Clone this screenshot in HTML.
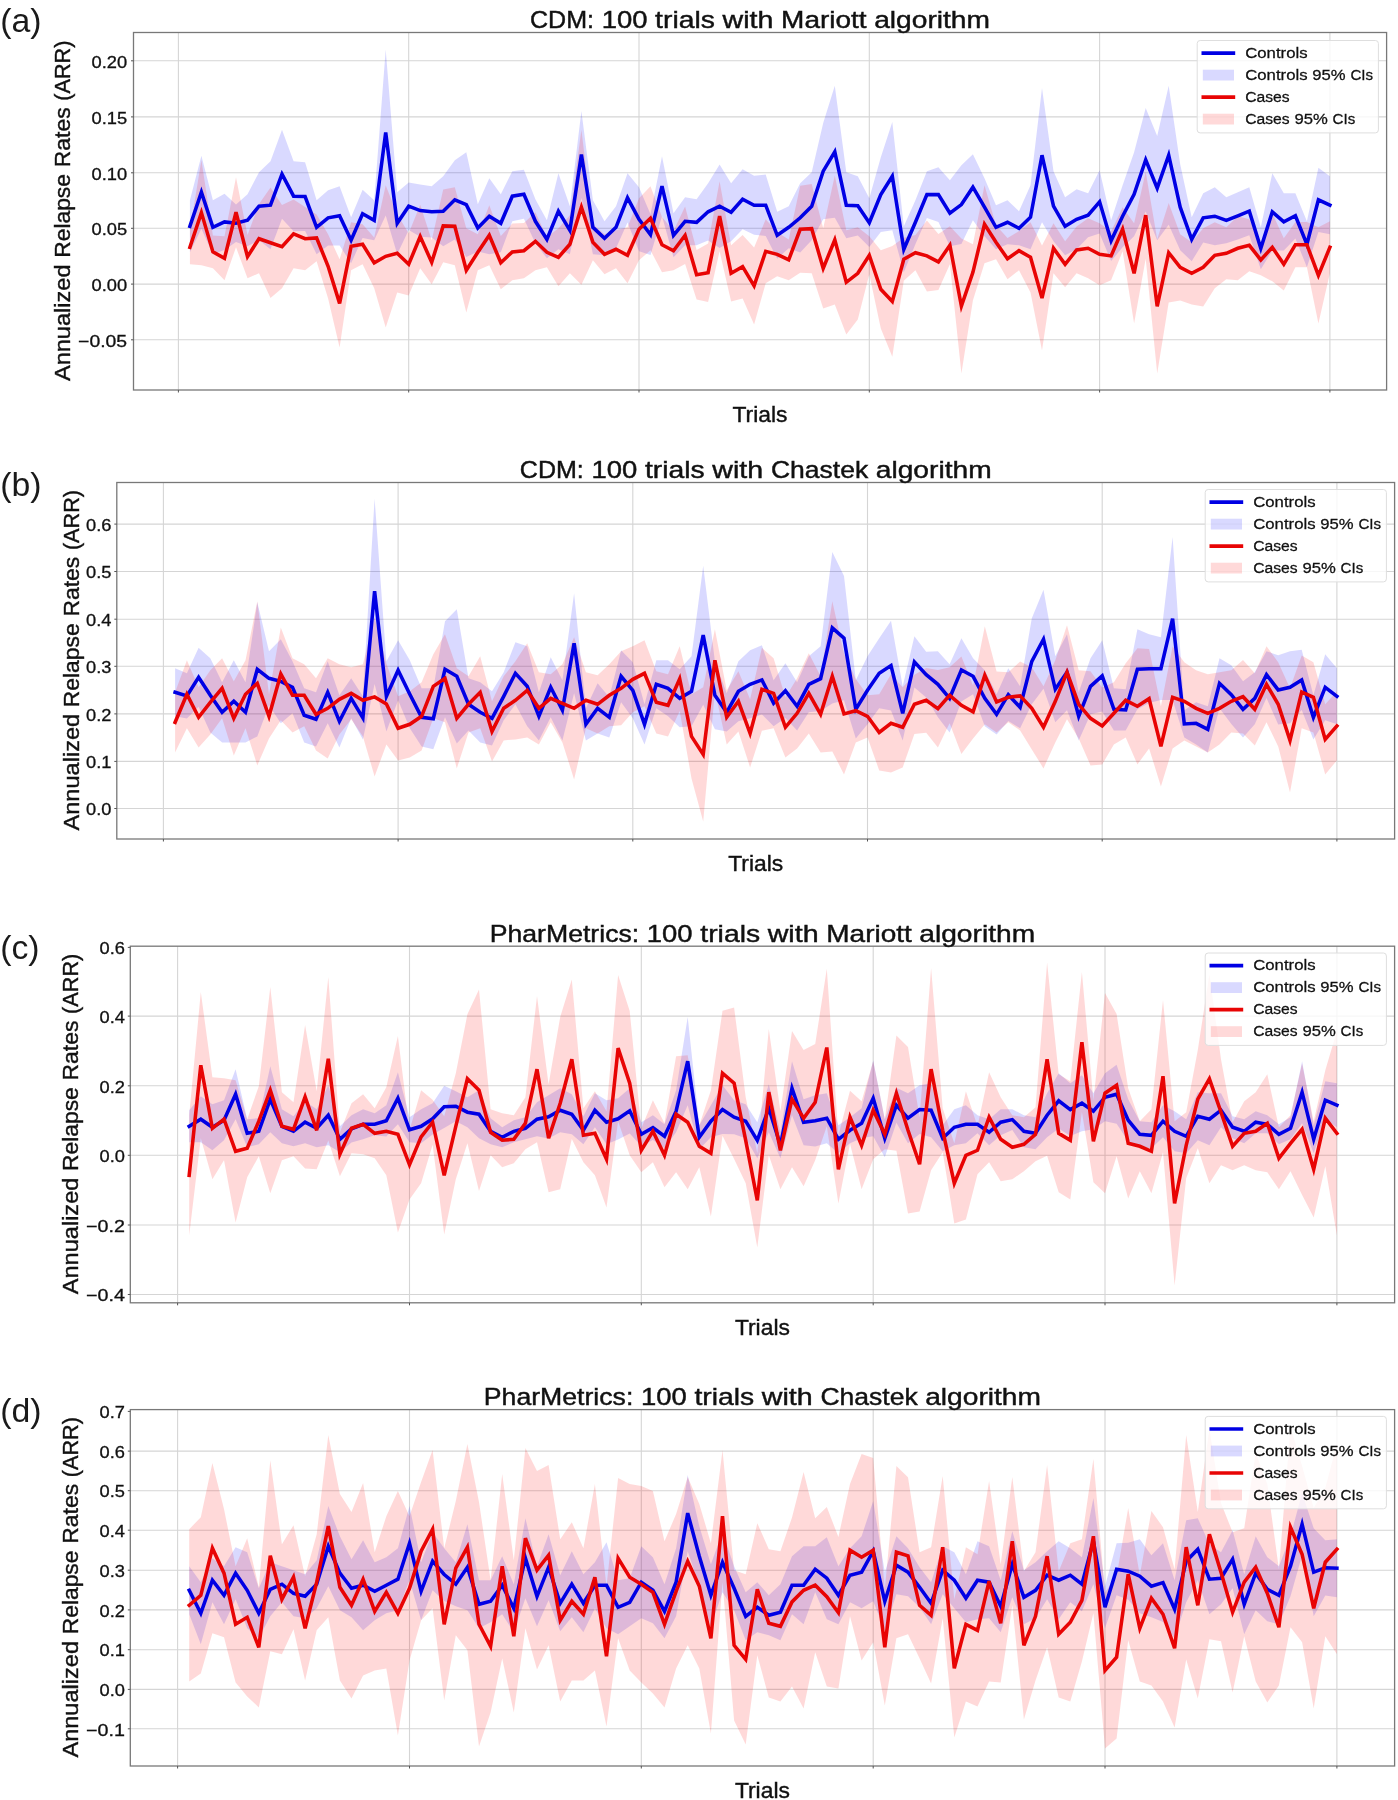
<!DOCTYPE html>
<html><head><meta charset="utf-8"><title>ARR trials</title>
<style>html,body{margin:0;padding:0;background:#fff}svg{display:block;will-change:transform}text{font-family:"Liberation Sans",sans-serif}</style></head>
<body>
<svg width="1398" height="1800" viewBox="0 0 1398 1800">
<rect width="1398" height="1800" fill="#ffffff"/>
<g>
<line x1="178.4" y1="32.5" x2="178.4" y2="390.0" stroke="#d5d5d5" stroke-width="1.1"/>
<line x1="408.7" y1="32.5" x2="408.7" y2="390.0" stroke="#d5d5d5" stroke-width="1.1"/>
<line x1="639.0" y1="32.5" x2="639.0" y2="390.0" stroke="#d5d5d5" stroke-width="1.1"/>
<line x1="869.3" y1="32.5" x2="869.3" y2="390.0" stroke="#d5d5d5" stroke-width="1.1"/>
<line x1="1099.6" y1="32.5" x2="1099.6" y2="390.0" stroke="#d5d5d5" stroke-width="1.1"/>
<line x1="1329.9" y1="32.5" x2="1329.9" y2="390.0" stroke="#d5d5d5" stroke-width="1.1"/>
<line x1="133.5" y1="60.8" x2="1386.6" y2="60.8" stroke="#d5d5d5" stroke-width="1.1"/>
<line x1="133.5" y1="116.9" x2="1386.6" y2="116.9" stroke="#d5d5d5" stroke-width="1.1"/>
<line x1="133.5" y1="172.8" x2="1386.6" y2="172.8" stroke="#d5d5d5" stroke-width="1.1"/>
<line x1="133.5" y1="228.3" x2="1386.6" y2="228.3" stroke="#d5d5d5" stroke-width="1.1"/>
<line x1="133.5" y1="284.1" x2="1386.6" y2="284.1" stroke="#d5d5d5" stroke-width="1.1"/>
<line x1="133.5" y1="339.8" x2="1386.6" y2="339.8" stroke="#d5d5d5" stroke-width="1.1"/>
<clipPath id="cpa"><rect x="133.5" y="32.5" width="1253.1" height="357.5"/></clipPath>
<g clip-path="url(#cpa)">
<polygon points="189.9,200.2 201.4,155.8 212.9,200.2 224.5,193.8 236.0,204.6 247.5,194.2 259.0,172.2 270.5,161.2 282.0,129.7 293.6,161.2 305.1,162.2 316.6,200.2 328.1,190.2 339.6,186.2 351.1,217.2 362.6,189.8 374.2,200.2 385.7,49.6 397.2,192.2 408.7,182.4 420.2,184.6 431.7,186.2 443.2,176.2 454.8,160.2 466.3,152.2 477.8,204.2 489.3,178.2 500.8,194.2 512.3,171.2 523.9,169.8 535.4,199.2 546.9,220.3 558.4,173.2 569.9,206.2 581.4,111.1 592.9,200.2 604.5,221.3 616.0,206.2 627.5,173.2 639.0,187.2 650.5,214.2 662.0,156.2 673.5,213.2 685.1,197.2 696.6,199.2 708.1,183.2 719.6,164.6 731.1,183.2 742.6,169.2 754.1,175.8 765.7,174.6 777.2,211.8 788.7,206.2 800.2,183.2 811.7,172.2 823.2,123.1 834.8,85.7 846.3,172.2 857.8,176.2 869.3,198.2 880.8,157.2 892.3,122.1 903.8,226.3 915.4,200.2 926.9,171.2 938.4,167.2 949.9,180.2 961.4,165.2 972.9,154.2 984.5,178.2 996.0,205.2 1007.5,200.2 1019.0,211.2 1030.5,185.2 1042.0,88.1 1053.5,171.2 1065.1,197.2 1076.6,189.2 1088.1,193.2 1099.6,170.2 1111.1,220.3 1122.6,185.2 1134.1,152.2 1145.7,108.1 1157.2,136.1 1168.7,85.7 1180.2,164.2 1191.7,217.2 1203.2,193.2 1214.8,187.2 1226.3,197.2 1237.8,192.2 1249.3,187.2 1260.8,227.3 1272.3,173.2 1283.8,193.2 1295.4,193.2 1306.9,221.3 1318.4,167.8 1329.9,176.2 1329.9,234.3 1318.4,231.9 1306.9,267.3 1295.4,238.5 1283.8,250.5 1272.3,250.5 1260.8,269.3 1249.3,235.3 1237.8,239.5 1226.3,243.3 1214.8,245.3 1203.2,242.5 1191.7,261.3 1180.2,250.3 1168.7,224.7 1157.2,240.3 1145.7,211.4 1134.1,236.3 1122.6,247.3 1111.1,261.1 1099.6,233.5 1088.1,237.3 1076.6,249.3 1065.1,255.3 1053.5,241.3 1042.0,222.3 1030.5,249.3 1019.0,245.3 1007.5,244.3 996.0,249.3 984.5,236.3 972.9,220.3 961.4,244.1 949.9,246.3 938.4,222.1 926.9,218.0 915.4,244.3 903.8,272.3 892.3,230.3 880.8,232.1 869.3,247.1 857.8,235.5 846.3,238.3 834.8,217.8 823.2,219.3 811.7,240.3 800.2,252.5 788.7,248.3 777.2,258.7 765.7,235.9 754.1,234.7 742.6,229.3 731.1,241.3 719.6,247.9 708.1,240.5 696.6,245.3 685.1,245.3 673.5,257.3 662.0,216.2 650.5,255.1 639.0,251.3 627.5,222.5 616.0,248.3 604.5,255.3 592.9,254.3 581.4,198.0 569.9,254.3 558.4,249.3 546.9,258.3 535.4,243.3 523.9,218.7 512.3,221.3 500.8,252.3 489.3,254.3 477.8,251.5 466.3,257.1 454.8,239.5 443.2,246.3 431.7,237.5 420.2,236.7 408.7,230.1 397.2,254.3 385.7,215.4 374.2,240.3 362.6,237.9 351.1,263.3 339.6,245.5 328.1,245.5 316.6,254.3 305.1,231.1 293.6,231.3 282.0,218.7 270.5,249.3 259.0,240.3 247.5,246.3 236.0,241.9 224.5,249.9 212.9,254.3 201.4,228.7 189.9,252.3" fill="#0000ff" fill-opacity="0.15"/>
<polygon points="189.9,230.3 201.4,160.0 212.9,235.5 224.5,236.3 236.0,177.2 247.5,235.1 259.0,204.0 270.5,187.4 282.0,205.0 293.6,199.4 305.1,207.0 316.6,214.4 328.1,234.3 339.6,259.3 351.1,222.3 362.6,224.3 374.2,237.5 385.7,185.2 397.2,214.2 408.7,233.3 420.2,204.8 431.7,240.3 443.2,189.4 454.8,187.2 466.3,228.3 477.8,234.3 489.3,205.2 500.8,236.1 512.3,223.5 523.9,223.1 535.4,212.2 546.9,237.3 558.4,228.3 569.9,215.2 581.4,129.7 592.9,224.3 604.5,234.3 616.0,230.3 627.5,227.3 639.0,198.2 650.5,186.2 662.0,217.0 673.5,231.1 685.1,206.6 696.6,250.1 708.1,243.5 719.6,181.2 731.1,245.3 742.6,235.1 754.1,247.5 765.7,219.3 777.2,232.3 788.7,239.5 800.2,185.8 811.7,184.0 823.2,228.3 834.8,175.4 846.3,230.3 857.8,227.3 869.3,236.3 880.8,250.3 892.3,245.9 903.8,237.8 915.4,235.1 926.9,220.5 938.4,233.9 949.9,226.3 961.4,238.5 972.9,244.3 984.5,185.2 996.0,225.3 1007.5,238.1 1019.0,231.1 1030.5,222.3 1042.0,245.5 1053.5,223.3 1065.1,241.3 1076.6,226.5 1088.1,218.2 1099.6,223.3 1111.1,231.5 1122.6,207.2 1134.1,223.3 1145.7,171.8 1157.2,239.3 1168.7,203.0 1180.2,234.3 1191.7,242.3 1203.2,228.3 1214.8,222.3 1226.3,227.3 1237.8,216.2 1249.3,219.3 1260.8,244.5 1272.3,213.2 1283.8,238.3 1295.4,222.1 1306.9,222.1 1318.4,227.3 1329.9,221.3 1329.9,273.3 1318.4,323.4 1306.9,267.3 1295.4,267.3 1283.8,290.4 1272.3,281.3 1260.8,275.3 1249.3,271.3 1237.8,280.3 1226.3,279.3 1214.8,288.3 1203.2,306.4 1191.7,304.4 1180.2,300.4 1168.7,302.4 1157.2,373.5 1145.7,258.7 1134.1,323.4 1122.6,251.3 1111.1,280.3 1099.6,285.3 1088.1,278.3 1076.6,273.3 1065.1,287.3 1053.5,273.3 1042.0,350.4 1030.5,292.4 1019.0,270.3 1007.5,279.3 996.0,259.3 984.5,263.3 972.9,300.4 961.4,373.5 949.9,264.3 938.4,289.9 926.9,291.4 915.4,270.3 903.8,280.8 892.3,356.8 880.8,328.4 869.3,274.3 857.8,319.4 846.3,334.4 834.8,304.4 823.2,308.4 811.7,273.3 800.2,272.7 788.7,280.3 777.2,276.3 765.7,283.3 754.1,324.4 742.6,298.4 731.1,301.4 719.6,251.3 708.1,302.0 696.6,299.4 685.1,263.9 673.5,270.3 662.0,272.3 650.5,250.3 639.0,260.3 627.5,283.3 616.0,268.3 604.5,274.3 592.9,260.3 581.4,284.7 569.9,273.3 558.4,286.3 546.9,267.3 535.4,270.3 523.9,278.3 512.3,280.3 500.8,289.3 489.3,265.3 477.8,270.3 466.3,312.4 454.8,265.3 443.2,262.3 431.7,284.3 420.2,268.3 408.7,295.4 397.2,292.4 385.7,327.4 374.2,288.3 362.6,264.3 351.1,270.3 339.6,347.4 328.1,298.4 316.6,261.3 305.1,270.3 293.6,268.3 282.0,288.3 270.5,298.0 259.0,273.3 247.5,278.3 236.0,247.3 224.5,280.3 212.9,268.3 201.4,265.3 189.9,264.3" fill="#ff0000" fill-opacity="0.15"/>
<polyline points="189.9,226.3 201.4,192.2 212.9,227.3 224.5,221.9 236.0,223.3 247.5,220.3 259.0,206.2 270.5,205.2 282.0,174.2 293.6,196.2 305.1,196.6 316.6,227.3 328.1,217.8 339.6,215.8 351.1,240.3 362.6,213.8 374.2,220.3 385.7,132.5 397.2,223.3 408.7,206.2 420.2,210.6 431.7,211.8 443.2,211.2 454.8,199.8 466.3,204.6 477.8,227.9 489.3,216.2 500.8,223.3 512.3,196.2 523.9,194.2 535.4,221.3 546.9,239.3 558.4,211.2 569.9,230.3 581.4,154.6 592.9,227.3 604.5,238.3 616.0,227.3 627.5,197.8 639.0,219.3 650.5,234.7 662.0,186.2 673.5,235.3 685.1,221.3 696.6,222.3 708.1,211.8 719.6,206.2 731.1,212.2 742.6,199.2 754.1,205.2 765.7,205.2 777.2,235.3 788.7,227.3 800.2,217.8 811.7,206.2 823.2,171.2 834.8,151.8 846.3,205.2 857.8,205.8 869.3,222.7 880.8,194.6 892.3,176.2 903.8,249.3 915.4,222.3 926.9,194.6 938.4,194.6 949.9,213.2 961.4,204.6 972.9,187.2 984.5,207.2 996.0,227.3 1007.5,222.3 1019.0,228.3 1030.5,217.2 1042.0,155.2 1053.5,206.2 1065.1,226.3 1076.6,219.3 1088.1,215.2 1099.6,201.8 1111.1,240.7 1122.6,216.2 1134.1,194.2 1145.7,159.8 1157.2,188.2 1168.7,155.2 1180.2,207.2 1191.7,239.3 1203.2,217.8 1214.8,216.2 1226.3,220.3 1237.8,215.8 1249.3,211.2 1260.8,248.3 1272.3,211.8 1283.8,221.9 1295.4,215.8 1306.9,244.3 1318.4,199.8 1329.9,205.2" fill="none" stroke="#0000e4" stroke-width="3.55" stroke-linejoin="miter" stroke-miterlimit="4" stroke-linecap="square"/>
<polyline points="189.9,247.3 201.4,212.6 212.9,251.9 224.5,258.3 236.0,212.2 247.5,256.7 259.0,238.7 270.5,242.7 282.0,246.7 293.6,233.9 305.1,238.7 316.6,237.9 328.1,266.3 339.6,303.4 351.1,246.3 362.6,244.3 374.2,262.9 385.7,256.3 397.2,253.3 408.7,264.3 420.2,236.6 431.7,262.3 443.2,225.9 454.8,226.3 466.3,270.3 477.8,252.3 489.3,235.3 500.8,262.7 512.3,251.9 523.9,250.7 535.4,241.3 546.9,252.3 558.4,257.3 569.9,244.3 581.4,207.2 592.9,242.3 604.5,254.3 616.0,249.3 627.5,255.3 639.0,229.3 650.5,218.2 662.0,244.7 673.5,250.7 685.1,235.3 696.6,274.7 708.1,272.7 719.6,216.2 731.1,273.3 742.6,266.7 754.1,285.9 765.7,251.3 777.2,254.3 788.7,259.9 800.2,229.3 811.7,228.7 823.2,268.3 834.8,239.9 846.3,282.3 857.8,273.3 869.3,255.3 880.8,289.3 892.3,301.4 903.8,259.3 915.4,252.7 926.9,255.9 938.4,261.9 949.9,245.3 961.4,306.0 972.9,272.3 984.5,224.3 996.0,242.3 1007.5,258.7 1019.0,250.7 1030.5,257.3 1042.0,298.0 1053.5,248.3 1065.1,264.3 1076.6,249.9 1088.1,248.3 1099.6,254.3 1111.1,255.9 1122.6,229.3 1134.1,273.3 1145.7,215.2 1157.2,306.4 1168.7,252.7 1180.2,267.3 1191.7,273.3 1203.2,267.3 1214.8,255.3 1226.3,253.3 1237.8,248.3 1249.3,245.3 1260.8,259.9 1272.3,247.3 1283.8,264.3 1295.4,244.7 1306.9,244.7 1318.4,275.3 1329.9,247.3" fill="none" stroke="#e80404" stroke-width="3.55" stroke-linejoin="miter" stroke-miterlimit="4" stroke-linecap="square"/>
</g>
<rect x="133.5" y="32.5" width="1253.1" height="357.5" fill="none" stroke="#787878" stroke-width="1.3"/>
<line x1="178.4" y1="390.0" x2="178.4" y2="392.5" stroke="#555555" stroke-width="1"/>
<line x1="408.7" y1="390.0" x2="408.7" y2="392.5" stroke="#555555" stroke-width="1"/>
<line x1="639.0" y1="390.0" x2="639.0" y2="392.5" stroke="#555555" stroke-width="1"/>
<line x1="869.3" y1="390.0" x2="869.3" y2="392.5" stroke="#555555" stroke-width="1"/>
<line x1="1099.6" y1="390.0" x2="1099.6" y2="392.5" stroke="#555555" stroke-width="1"/>
<line x1="1329.9" y1="390.0" x2="1329.9" y2="392.5" stroke="#555555" stroke-width="1"/>
<line x1="131.0" y1="60.8" x2="133.5" y2="60.8" stroke="#555555" stroke-width="1"/>
<text x="91.5" y="67.5" font-size="16.6" fill="#111111" textLength="35.6" lengthAdjust="spacingAndGlyphs" stroke="#111111" stroke-width="0.30">0.20</text>
<line x1="131.0" y1="116.9" x2="133.5" y2="116.9" stroke="#555555" stroke-width="1"/>
<text x="91.5" y="123.6" font-size="16.6" fill="#111111" textLength="35.6" lengthAdjust="spacingAndGlyphs" stroke="#111111" stroke-width="0.30">0.15</text>
<line x1="131.0" y1="172.8" x2="133.5" y2="172.8" stroke="#555555" stroke-width="1"/>
<text x="91.5" y="179.5" font-size="16.6" fill="#111111" textLength="35.6" lengthAdjust="spacingAndGlyphs" stroke="#111111" stroke-width="0.30">0.10</text>
<line x1="131.0" y1="228.3" x2="133.5" y2="228.3" stroke="#555555" stroke-width="1"/>
<text x="91.5" y="235.0" font-size="16.6" fill="#111111" textLength="35.6" lengthAdjust="spacingAndGlyphs" stroke="#111111" stroke-width="0.30">0.05</text>
<line x1="131.0" y1="284.1" x2="133.5" y2="284.1" stroke="#555555" stroke-width="1"/>
<text x="91.5" y="290.8" font-size="16.6" fill="#111111" textLength="35.6" lengthAdjust="spacingAndGlyphs" stroke="#111111" stroke-width="0.30">0.00</text>
<line x1="131.0" y1="339.8" x2="133.5" y2="339.8" stroke="#555555" stroke-width="1"/>
<text x="78.1" y="346.5" font-size="16.6" fill="#111111" textLength="49.0" lengthAdjust="spacingAndGlyphs" stroke="#111111" stroke-width="0.30">−0.05</text>
<text x="530.0" y="28.1" font-size="24.5" fill="#111111" textLength="64.0" lengthAdjust="spacingAndGlyphs" stroke="#111111" stroke-width="0.44">CDM:</text>
<text x="601.7" y="28.1" font-size="24.5" fill="#111111" textLength="45.8" lengthAdjust="spacingAndGlyphs" stroke="#111111" stroke-width="0.44">100</text>
<text x="655.1" y="28.1" font-size="24.5" fill="#111111" textLength="59.8" lengthAdjust="spacingAndGlyphs" stroke="#111111" stroke-width="0.44">trials</text>
<text x="722.6" y="28.1" font-size="24.5" fill="#111111" textLength="50.9" lengthAdjust="spacingAndGlyphs" stroke="#111111" stroke-width="0.44">with</text>
<text x="781.1" y="28.1" font-size="24.5" fill="#111111" textLength="85.5" lengthAdjust="spacingAndGlyphs" stroke="#111111" stroke-width="0.44">Mariott</text>
<text x="874.2" y="28.1" font-size="24.5" fill="#111111" textLength="115.8" lengthAdjust="spacingAndGlyphs" stroke="#111111" stroke-width="0.44">algorithm</text>
<text x="732.5" y="422.0" font-size="22.3" fill="#111111" textLength="55.0" lengthAdjust="spacingAndGlyphs" stroke="#111111" stroke-width="0.40">Trials</text>
<g transform="translate(69.8,210.8) rotate(-90)">
<text x="-170.3" y="0.0" font-size="22.3" fill="#111111" textLength="116.7" lengthAdjust="spacingAndGlyphs" stroke="#111111" stroke-width="0.40">Annualized</text>
<text x="-47.0" y="0.0" font-size="22.3" fill="#111111" textLength="83.8" lengthAdjust="spacingAndGlyphs" stroke="#111111" stroke-width="0.40">Relapse</text>
<text x="43.6" y="0.0" font-size="22.3" fill="#111111" textLength="59.8" lengthAdjust="spacingAndGlyphs" stroke="#111111" stroke-width="0.40">Rates</text>
<text x="110.1" y="0.0" font-size="22.3" fill="#111111" textLength="60.2" lengthAdjust="spacingAndGlyphs" stroke="#111111" stroke-width="0.40">(ARR)</text>
</g>
<text x="0.2" y="31.9" font-family="Liberation Sans, sans-serif" font-size="33.8" fill="#1a1a1a" textLength="41.3" lengthAdjust="spacingAndGlyphs">(a)</text>
<rect x="1197.2" y="40.5" width="181.2" height="92.4" rx="3" ry="3" fill="#ffffff" fill-opacity="0.8" stroke="#dedede" stroke-width="1"/>
<line x1="1201.5" y1="53.1" x2="1235.2" y2="53.1" stroke="#0000e4" stroke-width="3.55"/>
<text x="1245.2" y="57.7" font-size="15.5" fill="#111111" textLength="62.4" lengthAdjust="spacingAndGlyphs" stroke="#111111" stroke-width="0.28">Controls</text>
<rect x="1202.8" y="69.7" width="31.2" height="10.8" fill="#0000ff" fill-opacity="0.15"/>
<text x="1245.2" y="79.7" font-size="15.5" fill="#111111" textLength="62.4" lengthAdjust="spacingAndGlyphs" stroke="#111111" stroke-width="0.28">Controls</text>
<text x="1312.3" y="79.7" font-size="15.5" fill="#111111" textLength="33.3" lengthAdjust="spacingAndGlyphs" stroke="#111111" stroke-width="0.28">95%</text>
<text x="1350.4" y="79.7" font-size="15.5" fill="#111111" textLength="22.7" lengthAdjust="spacingAndGlyphs" stroke="#111111" stroke-width="0.28">CIs</text>
<line x1="1201.5" y1="97.1" x2="1235.2" y2="97.1" stroke="#e80404" stroke-width="3.55"/>
<text x="1245.2" y="101.7" font-size="15.5" fill="#111111" textLength="44.5" lengthAdjust="spacingAndGlyphs" stroke="#111111" stroke-width="0.28">Cases</text>
<rect x="1202.8" y="113.7" width="31.2" height="10.8" fill="#ff0000" fill-opacity="0.15"/>
<text x="1245.2" y="123.7" font-size="15.5" fill="#111111" textLength="44.5" lengthAdjust="spacingAndGlyphs" stroke="#111111" stroke-width="0.28">Cases</text>
<text x="1294.5" y="123.7" font-size="15.5" fill="#111111" textLength="33.3" lengthAdjust="spacingAndGlyphs" stroke="#111111" stroke-width="0.28">95%</text>
<text x="1332.6" y="123.7" font-size="15.5" fill="#111111" textLength="22.7" lengthAdjust="spacingAndGlyphs" stroke="#111111" stroke-width="0.28">CIs</text>
</g>
<g>
<line x1="163.4" y1="482.5" x2="163.4" y2="839.0" stroke="#d5d5d5" stroke-width="1.1"/>
<line x1="398.1" y1="482.5" x2="398.1" y2="839.0" stroke="#d5d5d5" stroke-width="1.1"/>
<line x1="632.8" y1="482.5" x2="632.8" y2="839.0" stroke="#d5d5d5" stroke-width="1.1"/>
<line x1="867.5" y1="482.5" x2="867.5" y2="839.0" stroke="#d5d5d5" stroke-width="1.1"/>
<line x1="1102.2" y1="482.5" x2="1102.2" y2="839.0" stroke="#d5d5d5" stroke-width="1.1"/>
<line x1="1336.9" y1="482.5" x2="1336.9" y2="839.0" stroke="#d5d5d5" stroke-width="1.1"/>
<line x1="116.8" y1="524.1" x2="1394.6" y2="524.1" stroke="#d5d5d5" stroke-width="1.1"/>
<line x1="116.8" y1="571.5" x2="1394.6" y2="571.5" stroke="#d5d5d5" stroke-width="1.1"/>
<line x1="116.8" y1="619.2" x2="1394.6" y2="619.2" stroke="#d5d5d5" stroke-width="1.1"/>
<line x1="116.8" y1="666.3" x2="1394.6" y2="666.3" stroke="#d5d5d5" stroke-width="1.1"/>
<line x1="116.8" y1="713.9" x2="1394.6" y2="713.9" stroke="#d5d5d5" stroke-width="1.1"/>
<line x1="116.8" y1="761.4" x2="1394.6" y2="761.4" stroke="#d5d5d5" stroke-width="1.1"/>
<line x1="116.8" y1="808.5" x2="1394.6" y2="808.5" stroke="#d5d5d5" stroke-width="1.1"/>
<clipPath id="cpb"><rect x="116.8" y="482.5" width="1277.8" height="356.5"/></clipPath>
<g clip-path="url(#cpb)">
<polygon points="175.1,668.3 186.9,673.3 198.6,647.8 210.3,658.2 222.1,682.3 233.8,660.3 245.5,682.3 257.3,602.2 269.0,651.2 280.8,639.2 292.5,661.3 304.2,688.3 316.0,692.3 327.7,661.3 339.4,695.3 351.2,678.3 362.9,696.3 374.6,498.4 386.4,661.3 398.1,640.2 409.8,660.3 421.6,688.3 433.3,688.3 445.0,621.2 456.8,609.2 468.5,678.3 480.2,682.3 492.0,691.3 503.7,672.3 515.4,642.2 527.2,646.2 538.9,692.3 550.7,657.2 562.4,680.3 574.1,593.2 585.9,708.3 597.6,683.3 609.3,697.3 621.1,650.2 632.8,662.3 644.5,704.3 656.3,660.3 668.0,660.3 679.7,669.3 691.5,656.2 703.2,565.7 714.9,661.3 726.7,693.3 738.4,661.3 750.1,650.2 761.9,645.2 773.6,680.3 785.4,663.3 797.1,682.3 808.8,656.2 820.6,646.2 832.3,552.1 844.0,576.1 855.8,680.3 867.5,656.2 879.2,638.2 891.0,620.7 902.7,686.3 914.4,636.2 926.2,651.8 937.9,651.2 949.6,664.3 961.4,638.2 973.1,658.2 984.8,670.3 996.6,694.3 1008.3,668.3 1020.1,686.3 1031.8,618.2 1043.5,589.8 1055.3,656.2 1067.0,634.2 1078.7,692.3 1090.5,658.2 1102.2,640.2 1113.9,688.3 1125.7,689.3 1137.4,629.2 1149.1,634.2 1160.9,637.2 1172.6,537.1 1184.3,710.3 1196.1,702.3 1207.8,706.3 1219.5,658.2 1231.3,665.3 1243.0,681.3 1254.8,672.3 1266.5,651.2 1278.2,655.2 1290.0,651.2 1301.7,649.8 1313.4,695.3 1325.2,654.2 1336.9,668.3 1336.9,724.3 1325.2,720.3 1313.4,739.4 1301.7,709.9 1290.0,723.3 1278.2,724.5 1266.5,698.1 1254.8,724.3 1243.0,737.4 1231.3,724.1 1219.5,708.3 1207.8,752.4 1196.1,744.4 1184.3,737.6 1172.6,700.1 1160.9,700.1 1149.1,703.1 1137.4,709.3 1125.7,730.6 1113.9,730.4 1102.2,711.5 1090.5,714.3 1078.7,740.4 1067.0,710.3 1055.3,722.3 1043.5,688.7 1031.8,704.3 1020.1,728.3 1008.3,721.1 996.6,734.4 984.8,726.3 973.1,694.3 961.4,701.5 949.6,732.4 937.9,717.3 926.2,697.5 914.4,687.5 902.7,740.4 891.0,710.4 879.2,708.3 867.5,724.3 855.8,738.4 844.0,700.3 832.3,703.5 820.6,711.1 808.8,712.3 797.1,730.4 785.4,718.1 773.6,726.3 761.9,714.5 750.1,718.3 738.4,721.3 726.7,731.4 714.9,729.3 703.2,704.7 691.5,726.3 679.7,727.3 668.0,716.3 656.3,708.3 644.5,744.4 632.8,718.3 621.1,702.3 609.3,737.4 597.6,733.4 585.9,740.4 574.1,693.3 562.4,740.4 550.7,717.3 538.9,740.4 527.2,726.3 515.4,704.3 503.7,720.3 492.0,745.4 480.2,742.4 468.5,730.4 456.8,743.4 445.0,717.3 433.3,749.2 421.6,746.4 409.8,728.3 398.1,700.3 386.4,731.4 374.6,683.9 362.9,739.6 351.2,718.3 339.4,747.4 327.7,723.3 316.0,746.4 304.2,742.4 292.5,713.3 280.8,723.3 269.0,705.3 257.3,736.4 245.5,742.4 233.8,742.4 222.1,742.4 210.3,732.4 198.6,706.7 186.9,718.5 175.1,716.3" fill="#0000ff" fill-opacity="0.15"/>
<polygon points="175.1,692.3 186.9,660.3 198.6,687.3 210.3,670.3 222.1,658.2 233.8,681.3 245.5,660.3 257.3,601.2 269.0,694.3 280.8,627.4 292.5,658.2 304.2,664.3 316.0,678.3 327.7,658.2 339.4,664.3 351.2,667.3 362.9,664.3 374.6,617.4 386.4,663.5 398.1,696.3 409.8,691.3 421.6,682.3 433.3,654.2 445.0,634.2 456.8,668.3 468.5,676.3 480.2,656.2 492.0,701.3 503.7,676.3 515.4,661.3 527.2,643.2 538.9,672.3 550.7,674.3 562.4,664.3 574.1,637.2 585.9,672.3 597.6,675.3 609.3,664.3 621.1,651.2 632.8,646.2 644.5,640.2 656.3,671.3 668.0,674.3 679.7,646.2 691.5,694.3 703.2,687.3 714.9,629.2 726.7,690.3 738.4,671.3 750.1,699.3 761.9,647.8 773.6,658.2 785.4,697.3 797.1,678.3 808.8,653.2 820.6,676.3 832.3,601.2 844.0,653.4 855.8,679.1 867.5,695.3 879.2,694.3 891.0,674.3 902.7,687.3 914.4,674.7 926.2,667.9 937.9,670.1 949.6,667.3 961.4,656.6 973.1,685.5 984.8,626.2 996.6,671.5 1008.3,672.3 1020.1,661.5 1031.8,667.3 1043.5,686.3 1055.3,660.3 1067.0,625.2 1078.7,670.3 1090.5,671.3 1102.2,687.5 1113.9,682.3 1125.7,663.3 1137.4,648.2 1149.1,649.0 1160.9,706.3 1172.6,646.2 1184.3,662.3 1196.1,670.3 1207.8,674.3 1219.5,672.3 1231.3,670.3 1243.0,660.1 1254.8,673.3 1266.5,646.2 1278.2,662.3 1290.0,688.3 1301.7,655.4 1313.4,662.3 1325.2,704.3 1336.9,691.5 1336.9,760.4 1325.2,774.4 1313.4,732.4 1301.7,728.3 1290.0,792.4 1278.2,746.4 1266.5,722.3 1254.8,745.4 1243.0,733.4 1231.3,732.4 1219.5,744.4 1207.8,752.4 1196.1,746.4 1184.3,740.4 1172.6,748.4 1160.9,786.4 1149.1,748.4 1137.4,764.4 1125.7,737.4 1113.9,744.4 1102.2,764.4 1090.5,765.4 1078.7,738.4 1067.0,719.3 1055.3,742.4 1043.5,768.4 1031.8,749.4 1020.1,730.4 1008.3,722.3 996.6,732.4 984.8,724.3 973.1,738.4 961.4,754.0 949.6,723.3 937.9,747.4 926.2,732.8 914.4,734.0 902.7,767.4 891.0,772.4 879.2,770.4 867.5,737.4 855.8,742.4 844.0,774.4 832.3,751.4 820.6,752.4 808.8,733.4 797.1,748.4 785.4,757.4 773.6,728.3 761.9,730.8 750.1,767.4 738.4,731.4 726.7,744.4 714.9,691.3 703.2,821.5 691.5,778.4 679.7,711.1 668.0,736.4 656.3,733.4 644.5,706.3 632.8,712.3 621.1,725.3 609.3,726.3 597.6,733.4 585.9,728.3 574.1,779.4 562.4,742.4 550.7,722.3 538.9,744.4 527.2,737.4 515.4,739.4 503.7,740.4 492.0,761.4 480.2,728.3 468.5,732.4 456.8,768.4 445.0,722.3 433.3,718.3 421.6,750.4 409.8,757.4 398.1,760.4 386.4,744.4 374.6,776.4 362.9,736.4 351.2,719.3 339.4,734.4 327.7,758.4 316.0,750.4 304.2,726.3 292.5,732.4 280.8,720.3 269.0,738.4 257.3,765.4 245.5,728.3 233.8,755.4 222.1,718.3 210.3,734.4 198.6,747.4 186.9,728.3 175.1,752.4" fill="#ff0000" fill-opacity="0.15"/>
<polyline points="175.1,692.3 186.9,695.9 198.6,677.3 210.3,695.3 222.1,712.3 233.8,701.3 245.5,712.3 257.3,669.3 269.0,678.3 280.8,681.3 292.5,687.3 304.2,715.3 316.0,719.3 327.7,692.3 339.4,721.3 351.2,698.3 362.9,717.9 374.6,591.2 386.4,696.3 398.1,670.3 409.8,694.3 421.6,717.3 433.3,718.7 445.0,669.3 456.8,676.3 468.5,704.3 480.2,712.3 492.0,718.3 503.7,696.3 515.4,673.3 527.2,686.3 538.9,716.3 550.7,687.3 562.4,710.3 574.1,643.2 585.9,724.3 597.6,708.3 609.3,717.3 621.1,676.3 632.8,690.3 644.5,724.3 656.3,684.3 668.0,688.3 679.7,698.3 691.5,691.3 703.2,635.2 714.9,695.3 726.7,712.3 738.4,691.3 750.1,684.3 761.9,679.9 773.6,703.3 785.4,690.7 797.1,706.3 808.8,684.3 820.6,678.7 832.3,627.8 844.0,638.2 855.8,709.3 867.5,690.3 879.2,673.3 891.0,665.6 902.7,713.3 914.4,661.9 926.2,674.7 937.9,684.3 949.6,698.3 961.4,669.9 973.1,676.3 984.8,698.3 996.6,714.3 1008.3,694.7 1020.1,707.3 1031.8,661.3 1043.5,639.2 1055.3,689.3 1067.0,672.3 1078.7,716.3 1090.5,686.3 1102.2,675.9 1113.9,709.3 1125.7,709.9 1137.4,669.3 1149.1,668.7 1160.9,668.7 1172.6,618.6 1184.3,723.9 1196.1,723.3 1207.8,729.3 1219.5,683.3 1231.3,694.7 1243.0,709.3 1254.8,698.3 1266.5,674.7 1278.2,689.9 1290.0,687.3 1301.7,679.9 1313.4,717.3 1325.2,687.3 1336.9,696.3" fill="none" stroke="#0000e4" stroke-width="3.55" stroke-linejoin="miter" stroke-miterlimit="4" stroke-linecap="square"/>
<polyline points="175.1,722.3 186.9,694.3 198.6,717.3 210.3,702.3 222.1,688.3 233.8,718.3 245.5,694.3 257.3,683.3 269.0,716.3 280.8,673.9 292.5,695.3 304.2,695.3 316.0,714.3 327.7,708.3 339.4,699.3 351.2,693.3 362.9,700.3 374.6,696.9 386.4,703.9 398.1,728.3 409.8,724.3 421.6,716.3 433.3,686.3 445.0,678.3 456.8,718.3 468.5,704.3 480.2,692.3 492.0,731.4 503.7,708.3 515.4,700.3 527.2,690.3 538.9,708.3 550.7,698.3 562.4,703.3 574.1,708.3 585.9,700.3 597.6,704.3 609.3,695.3 621.1,688.3 632.8,679.3 644.5,673.3 656.3,702.3 668.0,705.3 679.7,678.7 691.5,736.4 703.2,754.4 714.9,660.3 726.7,717.3 738.4,701.3 750.1,733.4 761.9,689.3 773.6,693.3 785.4,727.3 797.1,713.3 808.8,693.3 820.6,714.3 832.3,676.3 844.0,713.9 855.8,710.7 867.5,716.3 879.2,732.4 891.0,723.3 902.7,727.3 914.4,704.3 926.2,700.3 937.9,708.7 949.6,695.3 961.4,705.3 973.1,711.9 984.8,675.3 996.6,701.9 1008.3,697.3 1020.1,695.9 1031.8,708.3 1043.5,727.3 1055.3,701.3 1067.0,672.3 1078.7,704.3 1090.5,718.3 1102.2,725.9 1113.9,713.3 1125.7,700.3 1137.4,706.3 1149.1,698.7 1160.9,746.4 1172.6,697.3 1184.3,701.3 1196.1,708.3 1207.8,713.3 1219.5,708.3 1231.3,701.3 1243.0,696.7 1254.8,709.3 1266.5,684.3 1278.2,704.3 1290.0,740.4 1301.7,691.9 1313.4,697.3 1325.2,739.4 1336.9,725.9" fill="none" stroke="#e80404" stroke-width="3.55" stroke-linejoin="miter" stroke-miterlimit="4" stroke-linecap="square"/>
</g>
<rect x="116.8" y="482.5" width="1277.8" height="356.5" fill="none" stroke="#787878" stroke-width="1.3"/>
<line x1="163.4" y1="839.0" x2="163.4" y2="841.5" stroke="#555555" stroke-width="1"/>
<line x1="398.1" y1="839.0" x2="398.1" y2="841.5" stroke="#555555" stroke-width="1"/>
<line x1="632.8" y1="839.0" x2="632.8" y2="841.5" stroke="#555555" stroke-width="1"/>
<line x1="867.5" y1="839.0" x2="867.5" y2="841.5" stroke="#555555" stroke-width="1"/>
<line x1="1102.2" y1="839.0" x2="1102.2" y2="841.5" stroke="#555555" stroke-width="1"/>
<line x1="1336.9" y1="839.0" x2="1336.9" y2="841.5" stroke="#555555" stroke-width="1"/>
<line x1="114.3" y1="524.1" x2="116.8" y2="524.1" stroke="#555555" stroke-width="1"/>
<text x="86.1" y="530.8" font-size="16.6" fill="#111111" textLength="25.4" lengthAdjust="spacingAndGlyphs" stroke="#111111" stroke-width="0.30">0.6</text>
<line x1="114.3" y1="571.5" x2="116.8" y2="571.5" stroke="#555555" stroke-width="1"/>
<text x="86.1" y="578.2" font-size="16.6" fill="#111111" textLength="25.4" lengthAdjust="spacingAndGlyphs" stroke="#111111" stroke-width="0.30">0.5</text>
<line x1="114.3" y1="619.2" x2="116.8" y2="619.2" stroke="#555555" stroke-width="1"/>
<text x="86.1" y="625.9" font-size="16.6" fill="#111111" textLength="25.4" lengthAdjust="spacingAndGlyphs" stroke="#111111" stroke-width="0.30">0.4</text>
<line x1="114.3" y1="666.3" x2="116.8" y2="666.3" stroke="#555555" stroke-width="1"/>
<text x="86.1" y="673.0" font-size="16.6" fill="#111111" textLength="25.4" lengthAdjust="spacingAndGlyphs" stroke="#111111" stroke-width="0.30">0.3</text>
<line x1="114.3" y1="713.9" x2="116.8" y2="713.9" stroke="#555555" stroke-width="1"/>
<text x="86.1" y="720.6" font-size="16.6" fill="#111111" textLength="25.4" lengthAdjust="spacingAndGlyphs" stroke="#111111" stroke-width="0.30">0.2</text>
<line x1="114.3" y1="761.4" x2="116.8" y2="761.4" stroke="#555555" stroke-width="1"/>
<text x="86.1" y="768.1" font-size="16.6" fill="#111111" textLength="25.4" lengthAdjust="spacingAndGlyphs" stroke="#111111" stroke-width="0.30">0.1</text>
<line x1="114.3" y1="808.5" x2="116.8" y2="808.5" stroke="#555555" stroke-width="1"/>
<text x="86.1" y="815.2" font-size="16.6" fill="#111111" textLength="25.4" lengthAdjust="spacingAndGlyphs" stroke="#111111" stroke-width="0.30">0.0</text>
<text x="519.8" y="478.1" font-size="24.5" fill="#111111" textLength="64.0" lengthAdjust="spacingAndGlyphs" stroke="#111111" stroke-width="0.44">CDM:</text>
<text x="591.5" y="478.1" font-size="24.5" fill="#111111" textLength="45.8" lengthAdjust="spacingAndGlyphs" stroke="#111111" stroke-width="0.44">100</text>
<text x="644.9" y="478.1" font-size="24.5" fill="#111111" textLength="59.8" lengthAdjust="spacingAndGlyphs" stroke="#111111" stroke-width="0.44">trials</text>
<text x="712.3" y="478.1" font-size="24.5" fill="#111111" textLength="50.9" lengthAdjust="spacingAndGlyphs" stroke="#111111" stroke-width="0.44">with</text>
<text x="770.9" y="478.1" font-size="24.5" fill="#111111" textLength="97.3" lengthAdjust="spacingAndGlyphs" stroke="#111111" stroke-width="0.44">Chastek</text>
<text x="875.8" y="478.1" font-size="24.5" fill="#111111" textLength="115.8" lengthAdjust="spacingAndGlyphs" stroke="#111111" stroke-width="0.44">algorithm</text>
<text x="728.2" y="871.0" font-size="22.3" fill="#111111" textLength="55.0" lengthAdjust="spacingAndGlyphs" stroke="#111111" stroke-width="0.40">Trials</text>
<g transform="translate(78.6,660.2) rotate(-90)">
<text x="-170.3" y="0.0" font-size="22.3" fill="#111111" textLength="116.7" lengthAdjust="spacingAndGlyphs" stroke="#111111" stroke-width="0.40">Annualized</text>
<text x="-47.0" y="0.0" font-size="22.3" fill="#111111" textLength="83.8" lengthAdjust="spacingAndGlyphs" stroke="#111111" stroke-width="0.40">Relapse</text>
<text x="43.6" y="0.0" font-size="22.3" fill="#111111" textLength="59.8" lengthAdjust="spacingAndGlyphs" stroke="#111111" stroke-width="0.40">Rates</text>
<text x="110.1" y="0.0" font-size="22.3" fill="#111111" textLength="60.2" lengthAdjust="spacingAndGlyphs" stroke="#111111" stroke-width="0.40">(ARR)</text>
</g>
<text x="0.2" y="496.2" font-family="Liberation Sans, sans-serif" font-size="33.8" fill="#1a1a1a" textLength="41.3" lengthAdjust="spacingAndGlyphs">(b)</text>
<rect x="1205.2" y="489.5" width="181.2" height="92.4" rx="3" ry="3" fill="#ffffff" fill-opacity="0.8" stroke="#dedede" stroke-width="1"/>
<line x1="1209.5" y1="502.1" x2="1243.2" y2="502.1" stroke="#0000e4" stroke-width="3.55"/>
<text x="1253.2" y="506.7" font-size="15.5" fill="#111111" textLength="62.4" lengthAdjust="spacingAndGlyphs" stroke="#111111" stroke-width="0.28">Controls</text>
<rect x="1210.8" y="518.7" width="31.2" height="10.8" fill="#0000ff" fill-opacity="0.15"/>
<text x="1253.2" y="528.7" font-size="15.5" fill="#111111" textLength="62.4" lengthAdjust="spacingAndGlyphs" stroke="#111111" stroke-width="0.28">Controls</text>
<text x="1320.3" y="528.7" font-size="15.5" fill="#111111" textLength="33.3" lengthAdjust="spacingAndGlyphs" stroke="#111111" stroke-width="0.28">95%</text>
<text x="1358.4" y="528.7" font-size="15.5" fill="#111111" textLength="22.7" lengthAdjust="spacingAndGlyphs" stroke="#111111" stroke-width="0.28">CIs</text>
<line x1="1209.5" y1="546.1" x2="1243.2" y2="546.1" stroke="#e80404" stroke-width="3.55"/>
<text x="1253.2" y="550.7" font-size="15.5" fill="#111111" textLength="44.5" lengthAdjust="spacingAndGlyphs" stroke="#111111" stroke-width="0.28">Cases</text>
<rect x="1210.8" y="562.7" width="31.2" height="10.8" fill="#ff0000" fill-opacity="0.15"/>
<text x="1253.2" y="572.7" font-size="15.5" fill="#111111" textLength="44.5" lengthAdjust="spacingAndGlyphs" stroke="#111111" stroke-width="0.28">Cases</text>
<text x="1302.5" y="572.7" font-size="15.5" fill="#111111" textLength="33.3" lengthAdjust="spacingAndGlyphs" stroke="#111111" stroke-width="0.28">95%</text>
<text x="1340.6" y="572.7" font-size="15.5" fill="#111111" textLength="22.7" lengthAdjust="spacingAndGlyphs" stroke="#111111" stroke-width="0.28">CIs</text>
</g>
<g>
<line x1="177.6" y1="946.2" x2="177.6" y2="1302.8" stroke="#d5d5d5" stroke-width="1.1"/>
<line x1="409.5" y1="946.2" x2="409.5" y2="1302.8" stroke="#d5d5d5" stroke-width="1.1"/>
<line x1="641.3" y1="946.2" x2="641.3" y2="1302.8" stroke="#d5d5d5" stroke-width="1.1"/>
<line x1="873.2" y1="946.2" x2="873.2" y2="1302.8" stroke="#d5d5d5" stroke-width="1.1"/>
<line x1="1105.0" y1="946.2" x2="1105.0" y2="1302.8" stroke="#d5d5d5" stroke-width="1.1"/>
<line x1="1336.9" y1="946.2" x2="1336.9" y2="1302.8" stroke="#d5d5d5" stroke-width="1.1"/>
<line x1="130.3" y1="1016.1" x2="1394.6" y2="1016.1" stroke="#d5d5d5" stroke-width="1.1"/>
<line x1="130.3" y1="1085.8" x2="1394.6" y2="1085.8" stroke="#d5d5d5" stroke-width="1.1"/>
<line x1="130.3" y1="1155.3" x2="1394.6" y2="1155.3" stroke="#d5d5d5" stroke-width="1.1"/>
<line x1="130.3" y1="1225.0" x2="1394.6" y2="1225.0" stroke="#d5d5d5" stroke-width="1.1"/>
<line x1="130.3" y1="1294.5" x2="1394.6" y2="1294.5" stroke="#d5d5d5" stroke-width="1.1"/>
<clipPath id="cpc"><rect x="130.3" y="946.2" width="1264.3" height="356.6"/></clipPath>
<g clip-path="url(#cpc)">
<polygon points="189.2,1110.2 200.8,1096.2 212.4,1104.2 224.0,1100.2 235.6,1069.2 247.2,1119.2 258.8,1118.2 270.3,1066.2 281.9,1109.2 293.5,1116.2 305.1,1101.2 316.7,1109.2 328.3,1085.2 339.9,1126.3 351.5,1115.2 363.1,1109.2 374.7,1113.2 386.3,1105.2 397.9,1072.2 409.5,1117.2 421.1,1109.2 432.6,1103.2 444.2,1085.7 455.8,1091.2 467.4,1097.2 479.0,1090.2 490.6,1118.2 502.2,1127.3 513.8,1120.2 525.4,1117.2 537.0,1102.2 548.6,1095.2 560.2,1088.2 571.8,1094.2 583.4,1116.2 594.9,1093.2 606.5,1100.2 618.1,1098.2 629.7,1088.2 641.3,1122.2 652.9,1115.2 664.5,1124.3 676.1,1090.2 687.7,1017.1 699.3,1125.3 710.9,1105.2 722.5,1085.2 734.1,1100.2 745.7,1104.2 757.3,1122.2 768.8,1084.2 780.4,1132.3 792.0,1061.2 803.6,1099.2 815.2,1095.2 826.8,1093.2 838.4,1125.3 850.0,1117.2 861.6,1108.2 873.2,1060.2 884.8,1119.2 896.4,1087.7 908.0,1093.2 919.6,1085.2 931.1,1083.2 942.7,1125.3 954.3,1109.2 965.9,1105.2 977.5,1115.2 989.1,1119.2 1000.7,1109.2 1012.3,1109.2 1023.9,1115.2 1035.5,1117.2 1047.1,1093.2 1058.7,1073.2 1070.3,1083.2 1081.9,1075.2 1093.4,1093.2 1105.0,1073.2 1116.6,1064.8 1128.2,1099.2 1139.8,1121.2 1151.4,1122.2 1163.0,1105.2 1174.6,1111.2 1186.2,1119.2 1197.8,1092.2 1209.4,1093.2 1221.0,1093.2 1232.6,1116.2 1244.2,1119.2 1255.7,1111.2 1267.3,1115.2 1278.9,1124.3 1290.5,1117.2 1302.1,1061.2 1313.7,1125.3 1325.3,1081.2 1336.9,1083.2 1336.9,1127.3 1325.3,1119.2 1313.7,1153.3 1302.1,1123.2 1290.5,1139.3 1278.9,1144.3 1267.3,1133.3 1255.7,1133.3 1244.2,1143.3 1232.6,1138.3 1221.0,1127.3 1209.4,1145.3 1197.8,1140.3 1186.2,1153.3 1174.6,1151.3 1163.0,1137.3 1151.4,1148.3 1139.8,1147.3 1128.2,1141.3 1116.6,1123.7 1105.0,1121.2 1093.4,1129.3 1081.9,1131.3 1070.3,1136.1 1058.7,1128.5 1047.1,1137.3 1035.5,1149.3 1023.9,1147.3 1012.3,1130.1 1000.7,1135.3 989.1,1145.3 977.5,1133.3 965.9,1143.3 954.3,1145.3 942.7,1151.3 931.1,1137.3 919.6,1134.1 908.0,1143.3 896.4,1122.7 884.8,1157.3 873.2,1136.3 861.6,1138.3 850.0,1143.3 838.4,1153.3 826.8,1143.3 815.2,1146.5 803.6,1145.3 792.0,1115.2 780.4,1158.3 768.8,1132.3 757.3,1158.3 745.7,1138.3 734.1,1134.3 722.5,1134.1 710.9,1137.3 699.3,1149.3 687.7,1105.2 676.1,1132.3 664.5,1148.3 652.9,1140.1 641.3,1146.3 629.7,1133.5 618.1,1139.5 606.5,1144.3 594.9,1127.3 583.4,1144.3 571.8,1134.3 560.2,1132.3 548.6,1138.5 537.0,1136.3 525.4,1139.3 513.8,1142.3 502.2,1147.3 490.6,1144.3 479.0,1138.3 467.4,1127.3 455.8,1121.2 444.2,1128.0 432.6,1134.5 421.1,1143.3 409.5,1142.3 397.9,1124.3 386.3,1136.5 374.7,1135.3 363.1,1139.3 351.5,1142.5 339.9,1152.3 328.3,1145.3 316.7,1147.3 305.1,1143.3 293.5,1146.3 281.9,1143.3 270.3,1132.3 258.8,1144.3 247.2,1147.3 235.6,1119.2 224.0,1140.3 212.4,1150.3 200.8,1142.3 189.2,1142.3" fill="#0000ff" fill-opacity="0.15"/>
<polygon points="189.2,1115.2 200.8,992.1 212.4,1077.2 224.0,1078.2 235.6,1080.2 247.2,1119.2 258.8,1086.2 270.3,987.1 281.9,1092.2 293.5,1102.2 305.1,1025.1 316.7,1091.2 328.3,977.0 339.9,1132.3 351.5,1103.2 363.1,1094.2 374.7,1108.2 386.3,1087.2 397.9,1036.1 409.5,1130.3 421.1,1090.2 432.6,1099.7 444.2,1116.2 455.8,1073.2 467.4,1014.3 479.0,989.5 490.6,1109.2 502.2,1113.2 513.8,1115.2 525.4,1097.2 537.0,996.1 548.6,1084.2 560.2,1017.1 571.8,979.4 583.4,1108.2 594.9,1091.2 606.5,1111.2 618.1,975.0 629.7,1011.1 641.3,1128.3 652.9,1100.2 664.5,1123.2 676.1,1056.2 687.7,1055.2 699.3,1125.3 710.9,1090.2 722.5,1010.7 734.1,1007.5 745.7,1097.2 757.3,1153.3 768.8,1029.1 780.4,1111.2 792.0,1031.1 803.6,1050.1 815.2,1044.1 826.8,968.8 838.4,1135.3 850.0,1090.8 861.6,1101.2 873.2,1061.2 884.8,1119.2 896.4,1035.6 908.0,1047.1 919.6,1117.2 931.1,968.0 942.7,1108.2 954.3,1143.3 965.9,1091.2 977.5,1126.3 989.1,1072.2 1000.7,1097.2 1012.3,1115.2 1023.9,1117.2 1035.5,1107.2 1047.1,962.6 1058.7,1074.2 1070.3,1081.2 1081.9,972.0 1093.4,1100.2 1105.0,993.1 1116.6,1014.1 1128.2,1088.2 1139.8,1121.2 1151.4,1109.2 1163.0,1000.1 1174.6,1121.2 1186.2,1112.2 1197.8,1050.1 1209.4,974.2 1221.0,1059.2 1232.6,1122.2 1244.2,1101.2 1255.7,1092.2 1267.3,1074.2 1278.9,1127.3 1290.5,1115.2 1302.1,1063.6 1313.7,1121.2 1325.3,1070.2 1336.9,1031.1 1336.9,1235.4 1325.3,1166.3 1313.7,1217.4 1302.1,1194.9 1290.5,1171.3 1278.9,1189.3 1267.3,1172.3 1255.7,1170.3 1244.2,1165.3 1232.6,1170.3 1221.0,1165.3 1209.4,1183.3 1197.8,1148.3 1186.2,1178.3 1174.6,1285.5 1163.0,1152.3 1151.4,1193.3 1139.8,1171.3 1128.2,1198.4 1116.6,1156.3 1105.0,1193.3 1093.4,1182.3 1081.9,1112.2 1070.3,1199.4 1058.7,1192.3 1047.1,1155.7 1035.5,1161.3 1023.9,1171.3 1012.3,1179.3 1000.7,1181.3 989.1,1162.3 977.5,1174.3 965.9,1219.4 954.3,1223.4 942.7,1152.3 931.1,1170.3 919.6,1211.4 908.0,1213.4 896.4,1150.8 884.8,1149.3 873.2,1159.3 861.6,1189.3 850.0,1143.7 838.4,1203.4 826.8,1126.3 815.2,1160.3 803.6,1186.3 792.0,1167.3 780.4,1189.3 768.8,1155.3 757.3,1247.4 745.7,1183.3 734.1,1158.9 722.5,1135.7 710.9,1216.4 699.3,1167.3 687.7,1189.3 676.1,1172.3 664.5,1187.3 652.9,1162.3 641.3,1172.3 629.7,1155.3 618.1,1121.2 606.5,1207.4 594.9,1175.3 583.4,1162.3 571.8,1138.9 560.2,1189.3 548.6,1192.3 537.0,1142.3 525.4,1149.3 513.8,1163.3 502.2,1167.3 490.6,1155.3 479.0,1190.9 467.4,1143.3 455.8,1179.3 444.2,1234.4 432.6,1144.8 421.1,1183.3 409.5,1199.4 397.9,1232.4 386.3,1175.3 374.7,1158.3 363.1,1154.3 351.5,1153.3 339.9,1176.3 328.3,1140.5 316.7,1169.3 305.1,1168.5 293.5,1156.3 281.9,1160.3 270.3,1193.3 258.8,1156.3 247.2,1177.3 235.6,1222.4 224.0,1160.3 212.4,1179.3 200.8,1138.3 189.2,1235.4" fill="#ff0000" fill-opacity="0.15"/>
<polyline points="189.2,1126.3 200.8,1119.2 212.4,1127.3 224.0,1120.2 235.6,1094.2 247.2,1133.3 258.8,1131.3 270.3,1099.2 281.9,1126.3 293.5,1131.3 305.1,1122.2 316.7,1128.3 328.3,1115.2 339.9,1139.3 351.5,1128.9 363.1,1124.3 374.7,1124.3 386.3,1120.8 397.9,1098.2 409.5,1129.8 421.1,1126.3 432.6,1118.8 444.2,1106.8 455.8,1106.2 467.4,1112.2 479.0,1114.2 490.6,1131.3 502.2,1137.3 513.8,1131.3 525.4,1128.3 537.0,1119.2 548.6,1116.8 560.2,1110.2 571.8,1114.2 583.4,1130.3 594.9,1110.2 606.5,1122.2 618.1,1118.8 629.7,1110.8 641.3,1134.3 652.9,1127.7 664.5,1136.3 676.1,1111.2 687.7,1061.2 699.3,1137.3 710.9,1121.2 722.5,1109.6 734.1,1117.2 745.7,1121.2 757.3,1140.3 768.8,1108.2 780.4,1145.3 792.0,1088.2 803.6,1122.2 815.2,1120.8 826.8,1118.2 838.4,1139.3 850.0,1130.3 861.6,1123.2 873.2,1098.2 884.8,1138.3 896.4,1105.2 908.0,1118.2 919.6,1109.6 931.1,1110.2 942.7,1138.3 954.3,1127.3 965.9,1124.3 977.5,1124.3 989.1,1132.3 1000.7,1122.2 1012.3,1119.6 1023.9,1131.3 1035.5,1133.3 1047.1,1115.2 1058.7,1100.8 1070.3,1109.6 1081.9,1103.2 1093.4,1111.2 1105.0,1097.2 1116.6,1094.2 1128.2,1120.2 1139.8,1134.3 1151.4,1135.3 1163.0,1121.2 1174.6,1131.3 1186.2,1136.3 1197.8,1116.2 1209.4,1119.2 1221.0,1110.2 1232.6,1127.3 1244.2,1131.3 1255.7,1122.2 1267.3,1124.3 1278.9,1134.3 1290.5,1128.3 1302.1,1092.2 1313.7,1139.3 1325.3,1100.2 1336.9,1105.2" fill="none" stroke="#0000e4" stroke-width="3.55" stroke-linejoin="miter" stroke-miterlimit="4" stroke-linecap="square"/>
<polyline points="189.2,1175.3 200.8,1065.2 212.4,1128.3 224.0,1119.2 235.6,1151.3 247.2,1148.3 258.8,1121.2 270.3,1090.2 281.9,1126.3 293.5,1129.3 305.1,1096.8 316.7,1130.3 328.3,1058.8 339.9,1154.3 351.5,1128.3 363.1,1124.3 374.7,1133.3 386.3,1131.3 397.9,1134.3 409.5,1164.8 421.1,1136.8 432.6,1122.2 444.2,1175.3 455.8,1126.3 467.4,1078.8 479.0,1090.2 490.6,1132.3 502.2,1140.3 513.8,1139.3 525.4,1123.2 537.0,1069.2 548.6,1138.3 560.2,1103.2 571.8,1059.2 583.4,1135.3 594.9,1133.3 606.5,1159.3 618.1,1048.1 629.7,1083.2 641.3,1150.3 652.9,1131.3 664.5,1155.3 676.1,1114.2 687.7,1122.2 699.3,1146.3 710.9,1153.3 722.5,1073.2 734.1,1083.2 745.7,1140.3 757.3,1200.4 768.8,1092.2 780.4,1150.3 792.0,1099.2 803.6,1118.2 815.2,1102.2 826.8,1047.5 838.4,1169.3 850.0,1117.2 861.6,1145.3 873.2,1110.2 884.8,1134.3 896.4,1093.2 908.0,1130.3 919.6,1164.3 931.1,1069.2 942.7,1130.3 954.3,1183.3 965.9,1155.3 977.5,1150.3 989.1,1117.2 1000.7,1139.3 1012.3,1147.3 1023.9,1144.3 1035.5,1134.3 1047.1,1059.2 1058.7,1133.3 1070.3,1140.3 1081.9,1042.1 1093.4,1141.3 1105.0,1093.2 1116.6,1085.2 1128.2,1143.3 1139.8,1146.3 1151.4,1151.3 1163.0,1076.2 1174.6,1203.4 1186.2,1145.3 1197.8,1099.2 1209.4,1078.8 1221.0,1112.2 1232.6,1146.3 1244.2,1133.3 1255.7,1131.3 1267.3,1123.2 1278.9,1158.3 1290.5,1143.3 1302.1,1129.3 1313.7,1169.3 1325.3,1118.2 1336.9,1133.3" fill="none" stroke="#e80404" stroke-width="3.55" stroke-linejoin="miter" stroke-miterlimit="4" stroke-linecap="square"/>
</g>
<rect x="130.3" y="946.2" width="1264.3" height="356.6" fill="none" stroke="#787878" stroke-width="1.3"/>
<line x1="177.6" y1="1302.8" x2="177.6" y2="1305.3" stroke="#555555" stroke-width="1"/>
<line x1="409.5" y1="1302.8" x2="409.5" y2="1305.3" stroke="#555555" stroke-width="1"/>
<line x1="641.3" y1="1302.8" x2="641.3" y2="1305.3" stroke="#555555" stroke-width="1"/>
<line x1="873.2" y1="1302.8" x2="873.2" y2="1305.3" stroke="#555555" stroke-width="1"/>
<line x1="1105.0" y1="1302.8" x2="1105.0" y2="1305.3" stroke="#555555" stroke-width="1"/>
<line x1="1336.9" y1="1302.8" x2="1336.9" y2="1305.3" stroke="#555555" stroke-width="1"/>
<line x1="127.8" y1="947.4" x2="130.3" y2="947.4" stroke="#555555" stroke-width="1"/>
<text x="99.6" y="954.1" font-size="16.6" fill="#111111" textLength="25.4" lengthAdjust="spacingAndGlyphs" stroke="#111111" stroke-width="0.30">0.6</text>
<line x1="127.8" y1="1016.1" x2="130.3" y2="1016.1" stroke="#555555" stroke-width="1"/>
<text x="99.6" y="1022.8" font-size="16.6" fill="#111111" textLength="25.4" lengthAdjust="spacingAndGlyphs" stroke="#111111" stroke-width="0.30">0.4</text>
<line x1="127.8" y1="1085.8" x2="130.3" y2="1085.8" stroke="#555555" stroke-width="1"/>
<text x="99.6" y="1092.5" font-size="16.6" fill="#111111" textLength="25.4" lengthAdjust="spacingAndGlyphs" stroke="#111111" stroke-width="0.30">0.2</text>
<line x1="127.8" y1="1155.3" x2="130.3" y2="1155.3" stroke="#555555" stroke-width="1"/>
<text x="99.6" y="1162.0" font-size="16.6" fill="#111111" textLength="25.4" lengthAdjust="spacingAndGlyphs" stroke="#111111" stroke-width="0.30">0.0</text>
<line x1="127.8" y1="1225.0" x2="130.3" y2="1225.0" stroke="#555555" stroke-width="1"/>
<text x="86.1" y="1231.7" font-size="16.6" fill="#111111" textLength="38.9" lengthAdjust="spacingAndGlyphs" stroke="#111111" stroke-width="0.30">−0.2</text>
<line x1="127.8" y1="1294.5" x2="130.3" y2="1294.5" stroke="#555555" stroke-width="1"/>
<text x="86.1" y="1301.2" font-size="16.6" fill="#111111" textLength="38.9" lengthAdjust="spacingAndGlyphs" stroke="#111111" stroke-width="0.30">−0.4</text>
<text x="489.7" y="941.8" font-size="24.5" fill="#111111" textLength="149.5" lengthAdjust="spacingAndGlyphs" stroke="#111111" stroke-width="0.44">PharMetrics:</text>
<text x="646.8" y="941.8" font-size="24.5" fill="#111111" textLength="45.8" lengthAdjust="spacingAndGlyphs" stroke="#111111" stroke-width="0.44">100</text>
<text x="700.3" y="941.8" font-size="24.5" fill="#111111" textLength="59.8" lengthAdjust="spacingAndGlyphs" stroke="#111111" stroke-width="0.44">trials</text>
<text x="767.7" y="941.8" font-size="24.5" fill="#111111" textLength="50.9" lengthAdjust="spacingAndGlyphs" stroke="#111111" stroke-width="0.44">with</text>
<text x="826.3" y="941.8" font-size="24.5" fill="#111111" textLength="85.5" lengthAdjust="spacingAndGlyphs" stroke="#111111" stroke-width="0.44">Mariott</text>
<text x="919.3" y="941.8" font-size="24.5" fill="#111111" textLength="115.8" lengthAdjust="spacingAndGlyphs" stroke="#111111" stroke-width="0.44">algorithm</text>
<text x="734.9" y="1334.8" font-size="22.3" fill="#111111" textLength="55.0" lengthAdjust="spacingAndGlyphs" stroke="#111111" stroke-width="0.40">Trials</text>
<g transform="translate(78.0,1124.0) rotate(-90)">
<text x="-170.3" y="0.0" font-size="22.3" fill="#111111" textLength="116.7" lengthAdjust="spacingAndGlyphs" stroke="#111111" stroke-width="0.40">Annualized</text>
<text x="-47.0" y="0.0" font-size="22.3" fill="#111111" textLength="83.8" lengthAdjust="spacingAndGlyphs" stroke="#111111" stroke-width="0.40">Relapse</text>
<text x="43.6" y="0.0" font-size="22.3" fill="#111111" textLength="59.8" lengthAdjust="spacingAndGlyphs" stroke="#111111" stroke-width="0.40">Rates</text>
<text x="110.1" y="0.0" font-size="22.3" fill="#111111" textLength="60.2" lengthAdjust="spacingAndGlyphs" stroke="#111111" stroke-width="0.40">(ARR)</text>
</g>
<text x="0.2" y="958.7" font-family="Liberation Sans, sans-serif" font-size="33.8" fill="#1a1a1a" textLength="39.4" lengthAdjust="spacingAndGlyphs">(c)</text>
<rect x="1205.2" y="953.0" width="181.2" height="92.4" rx="3" ry="3" fill="#ffffff" fill-opacity="0.8" stroke="#dedede" stroke-width="1"/>
<line x1="1209.5" y1="965.6" x2="1243.2" y2="965.6" stroke="#0000e4" stroke-width="3.55"/>
<text x="1253.2" y="970.2" font-size="15.5" fill="#111111" textLength="62.4" lengthAdjust="spacingAndGlyphs" stroke="#111111" stroke-width="0.28">Controls</text>
<rect x="1210.8" y="982.2" width="31.2" height="10.8" fill="#0000ff" fill-opacity="0.15"/>
<text x="1253.2" y="992.2" font-size="15.5" fill="#111111" textLength="62.4" lengthAdjust="spacingAndGlyphs" stroke="#111111" stroke-width="0.28">Controls</text>
<text x="1320.3" y="992.2" font-size="15.5" fill="#111111" textLength="33.3" lengthAdjust="spacingAndGlyphs" stroke="#111111" stroke-width="0.28">95%</text>
<text x="1358.4" y="992.2" font-size="15.5" fill="#111111" textLength="22.7" lengthAdjust="spacingAndGlyphs" stroke="#111111" stroke-width="0.28">CIs</text>
<line x1="1209.5" y1="1009.6" x2="1243.2" y2="1009.6" stroke="#e80404" stroke-width="3.55"/>
<text x="1253.2" y="1014.2" font-size="15.5" fill="#111111" textLength="44.5" lengthAdjust="spacingAndGlyphs" stroke="#111111" stroke-width="0.28">Cases</text>
<rect x="1210.8" y="1026.2" width="31.2" height="10.8" fill="#ff0000" fill-opacity="0.15"/>
<text x="1253.2" y="1036.2" font-size="15.5" fill="#111111" textLength="44.5" lengthAdjust="spacingAndGlyphs" stroke="#111111" stroke-width="0.28">Cases</text>
<text x="1302.5" y="1036.2" font-size="15.5" fill="#111111" textLength="33.3" lengthAdjust="spacingAndGlyphs" stroke="#111111" stroke-width="0.28">95%</text>
<text x="1340.6" y="1036.2" font-size="15.5" fill="#111111" textLength="22.7" lengthAdjust="spacingAndGlyphs" stroke="#111111" stroke-width="0.28">CIs</text>
</g>
<g>
<line x1="177.6" y1="1409.6" x2="177.6" y2="1766.0" stroke="#d5d5d5" stroke-width="1.1"/>
<line x1="409.5" y1="1409.6" x2="409.5" y2="1766.0" stroke="#d5d5d5" stroke-width="1.1"/>
<line x1="641.3" y1="1409.6" x2="641.3" y2="1766.0" stroke="#d5d5d5" stroke-width="1.1"/>
<line x1="873.2" y1="1409.6" x2="873.2" y2="1766.0" stroke="#d5d5d5" stroke-width="1.1"/>
<line x1="1105.0" y1="1409.6" x2="1105.0" y2="1766.0" stroke="#d5d5d5" stroke-width="1.1"/>
<line x1="1336.9" y1="1409.6" x2="1336.9" y2="1766.0" stroke="#d5d5d5" stroke-width="1.1"/>
<line x1="130.3" y1="1451.1" x2="1394.6" y2="1451.1" stroke="#d5d5d5" stroke-width="1.1"/>
<line x1="130.3" y1="1490.7" x2="1394.6" y2="1490.7" stroke="#d5d5d5" stroke-width="1.1"/>
<line x1="130.3" y1="1530.2" x2="1394.6" y2="1530.2" stroke="#d5d5d5" stroke-width="1.1"/>
<line x1="130.3" y1="1570.2" x2="1394.6" y2="1570.2" stroke="#d5d5d5" stroke-width="1.1"/>
<line x1="130.3" y1="1609.9" x2="1394.6" y2="1609.9" stroke="#d5d5d5" stroke-width="1.1"/>
<line x1="130.3" y1="1649.7" x2="1394.6" y2="1649.7" stroke="#d5d5d5" stroke-width="1.1"/>
<line x1="130.3" y1="1689.4" x2="1394.6" y2="1689.4" stroke="#d5d5d5" stroke-width="1.1"/>
<line x1="130.3" y1="1728.8" x2="1394.6" y2="1728.8" stroke="#d5d5d5" stroke-width="1.1"/>
<clipPath id="cpd"><rect x="130.3" y="1409.6" width="1264.3" height="356.4"/></clipPath>
<g clip-path="url(#cpd)">
<polygon points="189.2,1566.2 200.8,1582.2 212.4,1558.2 224.0,1566.2 235.6,1547.2 247.2,1552.2 258.8,1588.3 270.3,1562.2 281.9,1566.2 293.5,1570.2 305.1,1574.2 316.7,1560.2 328.3,1506.1 339.9,1536.2 351.5,1559.2 363.1,1540.2 374.7,1562.2 386.3,1557.2 397.9,1548.2 409.5,1506.1 421.1,1562.2 432.6,1532.2 444.2,1548.2 455.8,1562.2 467.4,1524.2 479.0,1580.2 490.6,1580.2 502.2,1556.2 513.8,1584.2 525.4,1518.2 537.0,1566.2 548.6,1534.2 560.2,1575.2 571.8,1551.2 583.4,1574.2 594.9,1562.2 606.5,1542.2 618.1,1580.2 629.7,1578.2 641.3,1546.2 652.9,1557.2 664.5,1584.2 676.1,1548.2 687.7,1475.1 699.3,1526.2 710.9,1564.2 722.5,1532.2 734.1,1566.2 745.7,1592.3 757.3,1582.2 768.8,1595.3 780.4,1584.2 792.0,1556.2 803.6,1546.2 815.2,1546.2 826.8,1537.2 838.4,1566.2 850.0,1548.2 861.6,1536.2 873.2,1501.1 884.8,1572.2 896.4,1536.2 908.0,1548.2 919.6,1567.2 931.1,1582.2 942.7,1546.2 954.3,1552.2 965.9,1574.2 977.5,1541.2 989.1,1546.2 1000.7,1580.2 1012.3,1531.2 1023.9,1570.2 1035.5,1562.2 1047.1,1551.2 1058.7,1541.2 1070.3,1548.2 1081.9,1557.2 1093.4,1498.1 1105.0,1586.2 1116.6,1543.2 1128.2,1542.7 1139.8,1539.2 1151.4,1555.2 1163.0,1543.2 1174.6,1580.2 1186.2,1520.2 1197.8,1518.2 1209.4,1544.2 1221.0,1552.2 1232.6,1530.2 1244.2,1574.2 1255.7,1536.2 1267.3,1557.2 1278.9,1566.2 1290.5,1536.2 1302.1,1493.1 1313.7,1528.2 1325.3,1540.2 1336.9,1539.2 1336.9,1597.3 1325.3,1595.5 1313.7,1616.3 1302.1,1555.2 1290.5,1596.3 1278.9,1624.3 1267.3,1621.3 1255.7,1610.3 1244.2,1634.3 1232.6,1588.3 1221.0,1604.3 1209.4,1614.3 1197.8,1580.2 1186.2,1602.3 1174.6,1638.3 1163.0,1622.1 1151.4,1617.3 1139.8,1613.3 1128.2,1599.8 1116.6,1595.3 1105.0,1628.3 1093.4,1584.2 1081.9,1611.3 1070.3,1602.3 1058.7,1619.3 1047.1,1599.3 1035.5,1618.3 1023.9,1624.3 1012.3,1597.3 1000.7,1632.3 989.1,1618.3 977.5,1619.3 965.9,1622.3 954.3,1608.3 942.7,1594.3 931.1,1624.3 919.6,1607.3 908.0,1596.3 896.4,1594.3 884.8,1630.3 873.2,1601.3 861.6,1608.3 850.0,1602.3 838.4,1624.3 826.8,1619.3 815.2,1592.3 803.6,1624.3 792.0,1614.3 780.4,1640.3 768.8,1635.3 757.3,1632.3 745.7,1640.3 734.1,1610.3 722.5,1592.3 710.9,1626.3 699.3,1586.2 687.7,1551.2 676.1,1616.3 664.5,1638.3 652.9,1623.3 641.3,1618.3 629.7,1626.3 618.1,1634.3 606.5,1628.3 594.9,1608.3 583.4,1632.3 571.8,1617.3 560.2,1631.3 548.6,1600.3 537.0,1626.3 525.4,1598.3 513.8,1632.3 502.2,1614.3 490.6,1622.3 479.0,1628.3 467.4,1610.3 455.8,1606.3 444.2,1600.9 432.6,1590.3 421.1,1620.3 409.5,1580.2 397.9,1610.3 386.3,1613.3 374.7,1620.3 363.1,1630.3 351.5,1617.3 339.9,1610.3 328.3,1586.2 316.7,1608.3 305.1,1618.3 293.5,1616.3 281.9,1602.3 270.3,1616.3 258.8,1638.3 247.2,1628.3 235.6,1599.3 224.0,1624.3 212.4,1602.3 200.8,1644.3 189.2,1614.3" fill="#0000ff" fill-opacity="0.15"/>
<polygon points="189.2,1529.2 200.8,1517.2 212.4,1463.1 224.0,1509.1 235.6,1566.2 247.2,1538.2 258.8,1587.3 270.3,1460.3 281.9,1544.2 293.5,1525.2 305.1,1576.2 316.7,1534.2 328.3,1435.0 339.9,1494.1 351.5,1512.1 363.1,1483.1 374.7,1552.2 386.3,1516.2 397.9,1491.1 409.5,1516.2 421.1,1482.1 432.6,1450.1 444.2,1548.2 455.8,1501.1 467.4,1444.1 479.0,1502.1 490.6,1580.2 502.2,1474.1 513.8,1560.2 525.4,1448.1 537.0,1471.1 548.6,1465.1 560.2,1539.2 571.8,1522.2 583.4,1548.2 594.9,1484.1 606.5,1586.2 618.1,1478.1 629.7,1484.1 641.3,1486.1 652.9,1491.1 664.5,1541.2 676.1,1514.1 687.7,1477.1 699.3,1504.1 710.9,1543.2 722.5,1450.1 734.1,1570.2 745.7,1574.2 757.3,1523.2 768.8,1549.2 780.4,1551.2 792.0,1517.4 803.6,1472.1 815.2,1518.2 826.8,1506.9 838.4,1537.0 850.0,1484.1 861.6,1454.1 873.2,1458.1 884.8,1589.3 896.4,1466.1 908.0,1477.3 919.6,1552.2 931.1,1547.2 942.7,1476.1 954.3,1599.3 965.9,1547.2 977.5,1554.2 989.1,1481.1 1000.7,1564.2 1012.3,1477.1 1023.9,1571.2 1035.5,1552.2 1047.1,1465.1 1058.7,1571.2 1070.3,1543.2 1081.9,1539.2 1093.4,1459.1 1105.0,1592.3 1116.6,1576.2 1128.2,1508.1 1139.8,1575.2 1151.4,1511.1 1163.0,1527.2 1174.6,1569.2 1186.2,1435.0 1197.8,1512.1 1209.4,1429.0 1221.0,1503.1 1232.6,1532.2 1244.2,1528.2 1255.7,1453.1 1267.3,1484.1 1278.9,1569.2 1290.5,1427.0 1302.1,1466.1 1313.7,1508.1 1325.3,1488.1 1336.9,1444.1 1336.9,1654.3 1325.3,1636.3 1313.7,1708.4 1302.1,1642.3 1290.5,1627.3 1278.9,1685.4 1267.3,1702.4 1255.7,1681.4 1244.2,1636.3 1232.6,1692.4 1221.0,1641.3 1209.4,1639.3 1197.8,1698.4 1186.2,1659.4 1174.6,1727.4 1163.0,1701.4 1151.4,1685.4 1139.8,1681.4 1128.2,1640.3 1116.6,1738.5 1105.0,1748.5 1093.4,1613.3 1081.9,1661.4 1070.3,1701.4 1058.7,1697.4 1047.1,1647.3 1035.5,1680.4 1023.9,1719.4 1012.3,1605.3 1000.7,1682.4 989.1,1681.4 977.5,1706.4 965.9,1701.4 954.3,1737.5 942.7,1618.3 931.1,1683.4 919.6,1658.4 908.0,1634.3 896.4,1638.3 884.8,1705.4 873.2,1642.3 861.6,1660.4 850.0,1616.3 838.4,1688.4 826.8,1686.4 815.2,1652.3 803.6,1708.4 792.0,1686.4 780.4,1701.4 768.8,1697.4 757.3,1655.3 745.7,1744.5 734.1,1720.4 722.5,1582.2 710.9,1733.5 699.3,1668.4 687.7,1645.3 676.1,1668.4 664.5,1707.4 652.9,1693.4 641.3,1682.4 629.7,1670.4 618.1,1638.3 606.5,1726.4 594.9,1670.4 583.4,1680.4 571.8,1680.4 560.2,1701.4 548.6,1645.3 537.0,1669.4 525.4,1628.3 513.8,1712.4 502.2,1658.4 490.6,1712.4 479.0,1746.5 467.4,1650.3 455.8,1635.3 444.2,1700.4 432.6,1608.3 421.1,1620.3 409.5,1660.4 397.9,1735.5 386.3,1668.4 374.7,1670.4 363.1,1675.4 351.5,1698.4 339.9,1680.4 328.3,1617.3 316.7,1630.3 305.1,1680.4 293.5,1629.3 281.9,1654.3 270.3,1651.3 258.8,1707.4 247.2,1696.4 235.6,1682.4 224.0,1637.3 212.4,1633.3 200.8,1673.4 189.2,1681.4" fill="#ff0000" fill-opacity="0.15"/>
<polyline points="189.2,1590.3 200.8,1613.3 212.4,1580.2 224.0,1595.3 235.6,1573.2 247.2,1590.3 258.8,1613.3 270.3,1589.3 281.9,1584.2 293.5,1593.3 305.1,1596.3 316.7,1584.2 328.3,1546.2 339.9,1573.2 351.5,1588.3 363.1,1585.2 374.7,1591.3 386.3,1585.2 397.9,1579.2 409.5,1543.2 421.1,1591.3 432.6,1561.2 444.2,1574.5 455.8,1584.2 467.4,1567.2 479.0,1604.3 490.6,1601.3 502.2,1585.2 513.8,1608.3 525.4,1558.2 537.0,1596.3 548.6,1567.2 560.2,1603.3 571.8,1584.2 583.4,1603.3 594.9,1585.2 606.5,1585.2 618.1,1607.3 629.7,1602.3 641.3,1582.2 652.9,1590.3 664.5,1611.3 676.1,1582.2 687.7,1513.1 699.3,1556.2 710.9,1595.3 722.5,1562.2 734.1,1588.3 745.7,1616.3 757.3,1607.3 768.8,1615.3 780.4,1612.3 792.0,1585.2 803.6,1585.2 815.2,1569.2 826.8,1578.2 838.4,1595.3 850.0,1575.2 861.6,1572.2 873.2,1551.2 884.8,1601.3 896.4,1565.2 908.0,1572.2 919.6,1587.3 931.1,1603.3 942.7,1570.2 954.3,1580.2 965.9,1598.3 977.5,1580.2 989.1,1582.2 1000.7,1606.3 1012.3,1564.2 1023.9,1597.3 1035.5,1590.3 1047.1,1575.2 1058.7,1580.2 1070.3,1575.2 1081.9,1584.2 1093.4,1541.2 1105.0,1607.3 1116.6,1569.2 1128.2,1571.2 1139.8,1576.2 1151.4,1586.2 1163.0,1582.6 1174.6,1609.3 1186.2,1561.2 1197.8,1549.2 1209.4,1579.2 1221.0,1578.2 1232.6,1559.2 1244.2,1604.3 1255.7,1573.2 1267.3,1589.3 1278.9,1595.3 1290.5,1566.2 1302.1,1524.2 1313.7,1572.2 1325.3,1567.8 1336.9,1568.2" fill="none" stroke="#0000e4" stroke-width="3.55" stroke-linejoin="miter" stroke-miterlimit="4" stroke-linecap="square"/>
<polyline points="189.2,1605.3 200.8,1595.3 212.4,1548.2 224.0,1573.2 235.6,1624.3 247.2,1617.3 258.8,1647.3 270.3,1555.8 281.9,1599.3 293.5,1577.2 305.1,1628.3 316.7,1582.2 328.3,1526.2 339.9,1587.3 351.5,1605.3 363.1,1579.2 374.7,1611.3 386.3,1592.3 397.9,1613.3 409.5,1588.3 421.1,1551.2 432.6,1529.2 444.2,1624.3 455.8,1568.2 467.4,1547.2 479.0,1624.3 490.6,1646.3 502.2,1566.2 513.8,1636.3 525.4,1538.2 537.0,1570.2 548.6,1555.2 560.2,1620.3 571.8,1601.3 583.4,1614.3 594.9,1577.2 606.5,1656.3 618.1,1558.2 629.7,1577.2 641.3,1584.2 652.9,1592.3 664.5,1624.3 676.1,1591.3 687.7,1561.2 699.3,1586.2 710.9,1638.3 722.5,1516.2 734.1,1645.3 745.7,1659.4 757.3,1589.3 768.8,1623.3 780.4,1626.3 792.0,1601.9 803.6,1590.3 815.2,1585.2 826.8,1596.7 838.4,1612.7 850.0,1550.2 861.6,1557.2 873.2,1550.2 884.8,1647.3 896.4,1552.2 908.0,1555.8 919.6,1605.3 931.1,1615.3 942.7,1547.2 954.3,1668.4 965.9,1624.3 977.5,1630.3 989.1,1581.2 1000.7,1623.3 1012.3,1541.2 1023.9,1645.3 1035.5,1616.3 1047.1,1556.2 1058.7,1634.3 1070.3,1622.3 1081.9,1600.3 1093.4,1536.2 1105.0,1670.4 1116.6,1657.3 1128.2,1574.2 1139.8,1628.3 1151.4,1598.3 1163.0,1614.3 1174.6,1648.3 1186.2,1547.2 1197.8,1605.3 1209.4,1534.2 1221.0,1572.2 1232.6,1612.3 1244.2,1582.2 1255.7,1567.2 1267.3,1593.3 1278.9,1627.3 1290.5,1527.2 1302.1,1554.2 1313.7,1608.3 1325.3,1562.2 1336.9,1549.2" fill="none" stroke="#e80404" stroke-width="3.55" stroke-linejoin="miter" stroke-miterlimit="4" stroke-linecap="square"/>
</g>
<rect x="130.3" y="1409.6" width="1264.3" height="356.4" fill="none" stroke="#787878" stroke-width="1.3"/>
<line x1="177.6" y1="1766.0" x2="177.6" y2="1768.5" stroke="#555555" stroke-width="1"/>
<line x1="409.5" y1="1766.0" x2="409.5" y2="1768.5" stroke="#555555" stroke-width="1"/>
<line x1="641.3" y1="1766.0" x2="641.3" y2="1768.5" stroke="#555555" stroke-width="1"/>
<line x1="873.2" y1="1766.0" x2="873.2" y2="1768.5" stroke="#555555" stroke-width="1"/>
<line x1="1105.0" y1="1766.0" x2="1105.0" y2="1768.5" stroke="#555555" stroke-width="1"/>
<line x1="1336.9" y1="1766.0" x2="1336.9" y2="1768.5" stroke="#555555" stroke-width="1"/>
<line x1="127.8" y1="1411.4" x2="130.3" y2="1411.4" stroke="#555555" stroke-width="1"/>
<text x="99.6" y="1418.1" font-size="16.6" fill="#111111" textLength="25.4" lengthAdjust="spacingAndGlyphs" stroke="#111111" stroke-width="0.30">0.7</text>
<line x1="127.8" y1="1451.1" x2="130.3" y2="1451.1" stroke="#555555" stroke-width="1"/>
<text x="99.6" y="1457.8" font-size="16.6" fill="#111111" textLength="25.4" lengthAdjust="spacingAndGlyphs" stroke="#111111" stroke-width="0.30">0.6</text>
<line x1="127.8" y1="1490.7" x2="130.3" y2="1490.7" stroke="#555555" stroke-width="1"/>
<text x="99.6" y="1497.4" font-size="16.6" fill="#111111" textLength="25.4" lengthAdjust="spacingAndGlyphs" stroke="#111111" stroke-width="0.30">0.5</text>
<line x1="127.8" y1="1530.2" x2="130.3" y2="1530.2" stroke="#555555" stroke-width="1"/>
<text x="99.6" y="1536.9" font-size="16.6" fill="#111111" textLength="25.4" lengthAdjust="spacingAndGlyphs" stroke="#111111" stroke-width="0.30">0.4</text>
<line x1="127.8" y1="1570.2" x2="130.3" y2="1570.2" stroke="#555555" stroke-width="1"/>
<text x="99.6" y="1576.9" font-size="16.6" fill="#111111" textLength="25.4" lengthAdjust="spacingAndGlyphs" stroke="#111111" stroke-width="0.30">0.3</text>
<line x1="127.8" y1="1609.9" x2="130.3" y2="1609.9" stroke="#555555" stroke-width="1"/>
<text x="99.6" y="1616.6" font-size="16.6" fill="#111111" textLength="25.4" lengthAdjust="spacingAndGlyphs" stroke="#111111" stroke-width="0.30">0.2</text>
<line x1="127.8" y1="1649.7" x2="130.3" y2="1649.7" stroke="#555555" stroke-width="1"/>
<text x="99.6" y="1656.4" font-size="16.6" fill="#111111" textLength="25.4" lengthAdjust="spacingAndGlyphs" stroke="#111111" stroke-width="0.30">0.1</text>
<line x1="127.8" y1="1689.4" x2="130.3" y2="1689.4" stroke="#555555" stroke-width="1"/>
<text x="99.6" y="1696.1" font-size="16.6" fill="#111111" textLength="25.4" lengthAdjust="spacingAndGlyphs" stroke="#111111" stroke-width="0.30">0.0</text>
<line x1="127.8" y1="1728.8" x2="130.3" y2="1728.8" stroke="#555555" stroke-width="1"/>
<text x="86.1" y="1735.5" font-size="16.6" fill="#111111" textLength="38.9" lengthAdjust="spacingAndGlyphs" stroke="#111111" stroke-width="0.30">−0.1</text>
<text x="483.8" y="1405.2" font-size="24.5" fill="#111111" textLength="149.5" lengthAdjust="spacingAndGlyphs" stroke="#111111" stroke-width="0.44">PharMetrics:</text>
<text x="640.9" y="1405.2" font-size="24.5" fill="#111111" textLength="45.8" lengthAdjust="spacingAndGlyphs" stroke="#111111" stroke-width="0.44">100</text>
<text x="694.4" y="1405.2" font-size="24.5" fill="#111111" textLength="59.8" lengthAdjust="spacingAndGlyphs" stroke="#111111" stroke-width="0.44">trials</text>
<text x="761.8" y="1405.2" font-size="24.5" fill="#111111" textLength="50.9" lengthAdjust="spacingAndGlyphs" stroke="#111111" stroke-width="0.44">with</text>
<text x="820.4" y="1405.2" font-size="24.5" fill="#111111" textLength="97.3" lengthAdjust="spacingAndGlyphs" stroke="#111111" stroke-width="0.44">Chastek</text>
<text x="925.2" y="1405.2" font-size="24.5" fill="#111111" textLength="115.8" lengthAdjust="spacingAndGlyphs" stroke="#111111" stroke-width="0.44">algorithm</text>
<text x="734.9" y="1798.0" font-size="22.3" fill="#111111" textLength="55.0" lengthAdjust="spacingAndGlyphs" stroke="#111111" stroke-width="0.40">Trials</text>
<g transform="translate(78.0,1587.3) rotate(-90)">
<text x="-170.3" y="0.0" font-size="22.3" fill="#111111" textLength="116.7" lengthAdjust="spacingAndGlyphs" stroke="#111111" stroke-width="0.40">Annualized</text>
<text x="-47.0" y="0.0" font-size="22.3" fill="#111111" textLength="83.8" lengthAdjust="spacingAndGlyphs" stroke="#111111" stroke-width="0.40">Relapse</text>
<text x="43.6" y="0.0" font-size="22.3" fill="#111111" textLength="59.8" lengthAdjust="spacingAndGlyphs" stroke="#111111" stroke-width="0.40">Rates</text>
<text x="110.1" y="0.0" font-size="22.3" fill="#111111" textLength="60.2" lengthAdjust="spacingAndGlyphs" stroke="#111111" stroke-width="0.40">(ARR)</text>
</g>
<text x="0.2" y="1421.8" font-family="Liberation Sans, sans-serif" font-size="33.8" fill="#1a1a1a" textLength="41.3" lengthAdjust="spacingAndGlyphs">(d)</text>
<rect x="1205.2" y="1416.4" width="181.2" height="92.4" rx="3" ry="3" fill="#ffffff" fill-opacity="0.8" stroke="#dedede" stroke-width="1"/>
<line x1="1209.5" y1="1429.0" x2="1243.2" y2="1429.0" stroke="#0000e4" stroke-width="3.55"/>
<text x="1253.2" y="1433.6" font-size="15.5" fill="#111111" textLength="62.4" lengthAdjust="spacingAndGlyphs" stroke="#111111" stroke-width="0.28">Controls</text>
<rect x="1210.8" y="1445.6" width="31.2" height="10.8" fill="#0000ff" fill-opacity="0.15"/>
<text x="1253.2" y="1455.6" font-size="15.5" fill="#111111" textLength="62.4" lengthAdjust="spacingAndGlyphs" stroke="#111111" stroke-width="0.28">Controls</text>
<text x="1320.3" y="1455.6" font-size="15.5" fill="#111111" textLength="33.3" lengthAdjust="spacingAndGlyphs" stroke="#111111" stroke-width="0.28">95%</text>
<text x="1358.4" y="1455.6" font-size="15.5" fill="#111111" textLength="22.7" lengthAdjust="spacingAndGlyphs" stroke="#111111" stroke-width="0.28">CIs</text>
<line x1="1209.5" y1="1473.0" x2="1243.2" y2="1473.0" stroke="#e80404" stroke-width="3.55"/>
<text x="1253.2" y="1477.6" font-size="15.5" fill="#111111" textLength="44.5" lengthAdjust="spacingAndGlyphs" stroke="#111111" stroke-width="0.28">Cases</text>
<rect x="1210.8" y="1489.6" width="31.2" height="10.8" fill="#ff0000" fill-opacity="0.15"/>
<text x="1253.2" y="1499.6" font-size="15.5" fill="#111111" textLength="44.5" lengthAdjust="spacingAndGlyphs" stroke="#111111" stroke-width="0.28">Cases</text>
<text x="1302.5" y="1499.6" font-size="15.5" fill="#111111" textLength="33.3" lengthAdjust="spacingAndGlyphs" stroke="#111111" stroke-width="0.28">95%</text>
<text x="1340.6" y="1499.6" font-size="15.5" fill="#111111" textLength="22.7" lengthAdjust="spacingAndGlyphs" stroke="#111111" stroke-width="0.28">CIs</text>
</g>
</svg></body></html>
